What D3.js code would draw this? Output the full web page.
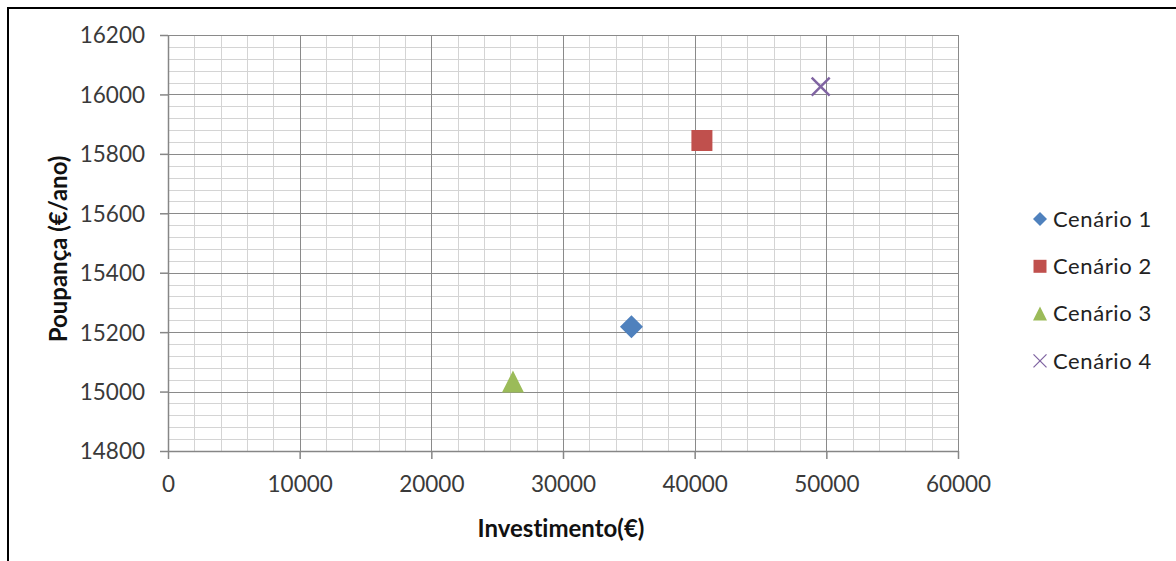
<!DOCTYPE html>
<html>
<head>
<meta charset="utf-8">
<script src="https://cdn.jsdelivr.net/npm/d3@7"></script>
<style>
  html, body { margin: 0; padding: 0; background: #fff; }
  svg { display: block; }
  text { font-family: Lato, "Open Sans", sans-serif; font-variant-ligatures: none; }
</style>
</head>
<body>
<svg id="chart" width="1176" height="561"></svg>
<script>
// Scenario data: investment (€) vs yearly savings (€/ano)
const scenarios = ["Cenário 1", "Cenário 2", "Cenário 3", "Cenário 4"];
const investimento = [35200, 40550, 26200, 49570];
const poupanca = [15218, 15845, 15034, 16026];
const colors = ["#4F81BD", "#C0504D", "#9BBB59", "#8064A2"];
const shapes = ["diamond", "square", "triangle", "cross"];

const xTicks = [0, 10000, 20000, 30000, 40000, 50000, 60000];
const yTicks = [14800, 15000, 15200, 15400, 15600, 15800, 16000, 16200];

const svg = d3.select("#chart");
const W = 1176, H = 561;
const plot = { left: 168, right: 958, top: 35, bottom: 451 };

const x = d3.scaleLinear().domain([0, 60000]).range([plot.left, plot.right]);
const y = d3.scaleLinear().domain([14800, 16200]).range([plot.bottom, plot.top]);

// outer frame
svg.append("rect")
  .attr("x", 8).attr("y", 8)
  .attr("width", W + 20).attr("height", H + 20)
  .attr("fill", "none").attr("stroke", "#000").attr("stroke-width", 2);

// minor grid
const minorX = d3.range(0, 60001, 2000);
const minorY = d3.range(14800, 16201, 40);
const grid = svg.append("g").attr("shape-rendering", "crispEdges");
grid.selectAll(".mx").data(minorX).join("line")
  .attr("x1", d => Math.round(x(d)) + 0.5).attr("x2", d => Math.round(x(d)) + 0.5)
  .attr("y1", plot.top).attr("y2", plot.bottom)
  .attr("stroke", "#d4d4d4").attr("stroke-width", 1.5);
grid.selectAll(".my").data(minorY).join("line")
  .attr("y1", d => Math.round(y(d)) + 0.5).attr("y2", d => Math.round(y(d)) + 0.5)
  .attr("x1", plot.left).attr("x2", plot.right)
  .attr("stroke", "#d4d4d4").attr("stroke-width", 1.5);

// major grid
grid.selectAll(".Mx").data(xTicks).join("line")
  .attr("x1", d => Math.round(x(d)) + 0.5).attr("x2", d => Math.round(x(d)) + 0.5)
  .attr("y1", plot.top).attr("y2", plot.bottom)
  .attr("stroke", "#8a8a8a").attr("stroke-width", 1.5);
grid.selectAll(".My").data(yTicks).join("line")
  .attr("y1", d => Math.round(y(d)) + 0.5).attr("y2", d => Math.round(y(d)) + 0.5)
  .attr("x1", plot.left).attr("x2", plot.right)
  .attr("stroke", "#8a8a8a").attr("stroke-width", 1.5);

// axes
const fmt = d3.format("d");
const xAxis = svg.append("g")
  .attr("transform", `translate(0,${plot.bottom})`)
  .call(d3.axisBottom(x).tickValues(xTicks).tickFormat(fmt).tickSize(8).tickSizeOuter(0).tickPadding(17));
const yAxis = svg.append("g")
  .attr("transform", `translate(${plot.left},0)`)
  .call(d3.axisLeft(y).tickValues(yTicks).tickFormat(fmt).tickSize(8).tickSizeOuter(0).tickPadding(15));

[xAxis, yAxis].forEach(a => {
  a.select(".domain").attr("stroke", "#868686").attr("stroke-width", 1.5);
  a.selectAll(".tick line").attr("stroke", "#868686").attr("stroke-width", 1.5);
  a.selectAll(".tick text").attr("fill", "#3a3a3a").style("font-size", "22.5px");
});
yAxis.selectAll(".tick text").attr("dy", "0.35em");

// axis titles
svg.append("text")
  .attr("x", (plot.left + plot.right) / 2 - 2).attr("y", 527)
  .attr("text-anchor", "middle").attr("dominant-baseline", "central")
  .style("font-size", "24px").style("font-weight", "bold").attr("fill", "#111")
  .text("Investimento(€)");
svg.append("text")
  .attr("transform", `translate(57,${(plot.top + plot.bottom) / 2 + 6}) rotate(-90)`)
  .attr("text-anchor", "middle").attr("dominant-baseline", "central")
  .style("font-size", "24px").style("font-weight", "bold").attr("fill", "#111")
  .text("Poupança (€/ano)");

// marker path generators (centered at 0,0, size = full width)
function markerPath(shape, s) {
  const h = s / 2;
  const p = d3.path();
  if (shape === "diamond") {
    p.moveTo(0, -h); p.lineTo(h, 0); p.lineTo(0, h); p.lineTo(-h, 0); p.closePath();
  } else if (shape === "square") {
    p.rect(-h, -h, s, s);
  } else if (shape === "triangle") {
    p.moveTo(0, -h); p.lineTo(h, h); p.lineTo(-h, h); p.closePath();
  } else {
    p.moveTo(-h, -h); p.lineTo(h, h); p.moveTo(h, -h); p.lineTo(-h, h);
  }
  return p.toString();
}
function styleMarker(sel, i, s) {
  const isCross = shapes[i] === "cross";
  sel.attr("d", markerPath(shapes[i], s))
    .attr("fill", isCross ? "none" : colors[i])
    .attr("stroke", isCross ? colors[i] : "none")
    .attr("stroke-width", isCross ? (s > 15 ? 2.5 : 1.3) : 0);
}

// data points
const idx = d3.range(scenarios.length);
const markerSize = [23, 21, 22, 18];
svg.append("g").selectAll("path").data(idx).join("path")
  .attr("transform", i => `translate(${x(investimento[i])},${y(poupanca[i])})`)
  .each(function (i) { styleMarker(d3.select(this), i, markerSize[i]); });

// legend
const legend = svg.append("g").attr("transform", "translate(1040,219)");
const rows = legend.selectAll("g").data(idx).join("g")
  .attr("transform", i => `translate(0,${i * 47.3})`);
rows.append("path").each(function (i) {
  styleMarker(d3.select(this), i, [14, 13, 14, 13][i]);
});
rows.append("text")
  .attr("x", 13).attr("dy", "0.35em")
  .style("font-size", "22px").style("letter-spacing", "0.6px").attr("fill", "#222")
  .text(i => scenarios[i]);
</script>
</body>
</html>
